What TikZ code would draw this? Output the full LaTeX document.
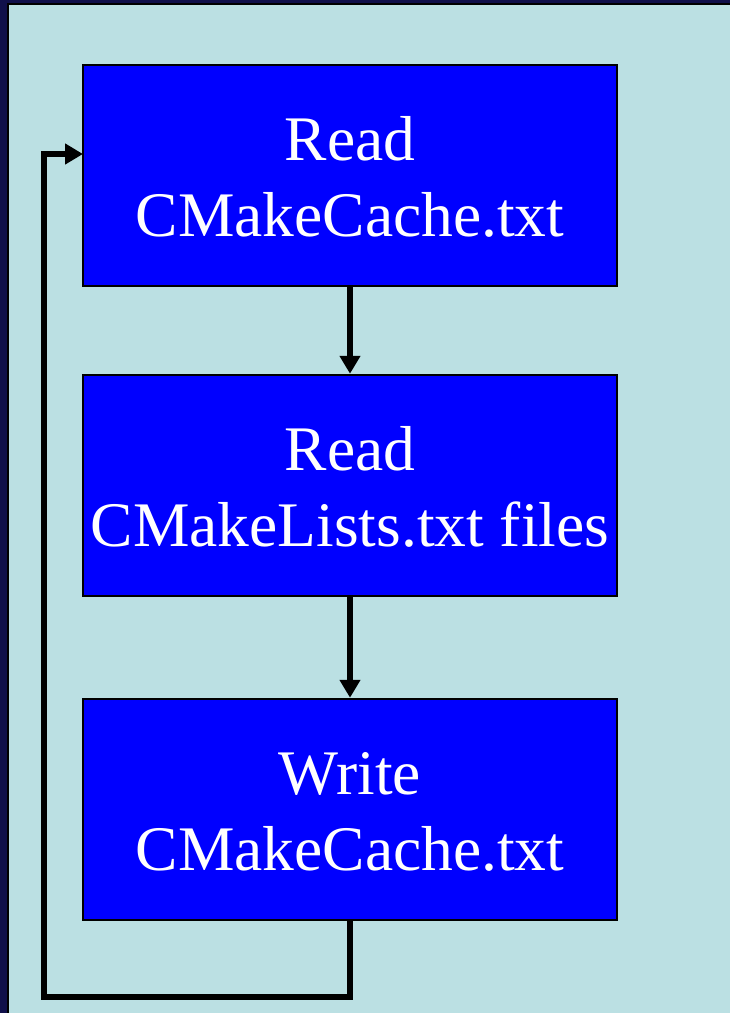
\documentclass[tikz,border=0pt]{standalone}
\usepackage{fontspec}
\setmainfont{Liberation Serif}
\usetikzlibrary{arrows.meta}
\definecolor{bgcyan}{HTML}{BBE0E3}
\definecolor{navy}{HTML}{10104A}
\definecolor{boxblue}{HTML}{0000FF}
\newcommand{\topstrut}{\rule{0pt}{47pt}}
\tikzset{
  stepbox/.style={draw=black, line width=2.5pt, fill=boxblue, text=white,
    minimum width=534pt, minimum height=221pt, inner sep=0pt, align=center,
    font=\fontsize{63.5}{76}\selectfont},
  flow/.style={line width=6.5pt, line join=miter, -{Triangle[length=18pt,width=20pt]}}
}
\begin{document}
\begin{tikzpicture}[x=1pt,y=-1pt]
\useasboundingbox (0,0) rectangle (730,1013);
\fill[navy] (0,0) rectangle (730,1013);
\fill[black] (7,2.5) rectangle (730,1013);
\fill[bgcyan] (9,4.5) rectangle (730,1013);
\node[stepbox] (b1) at (350,175.5) {\topstrut Read\\CMakeCache.txt};
\node[stepbox] (b2) at (350,485.5) {\topstrut Read\\CMakeLists.txt files};
\node[stepbox] (b3) at (350,809.5) {\topstrut Write\\CMakeCache.txt};
\coordinate (c) at (44,997);
\coordinate (in1) at (83,154);
\draw[flow] (b1.south) -- (b2.north);
\draw[flow] (b2.south) -- (b3.north);
\draw[flow] (b3.south) -- (b3.south |- c) -- (c) -- (c |- in1) -- (in1);
\end{tikzpicture}
\end{document}
